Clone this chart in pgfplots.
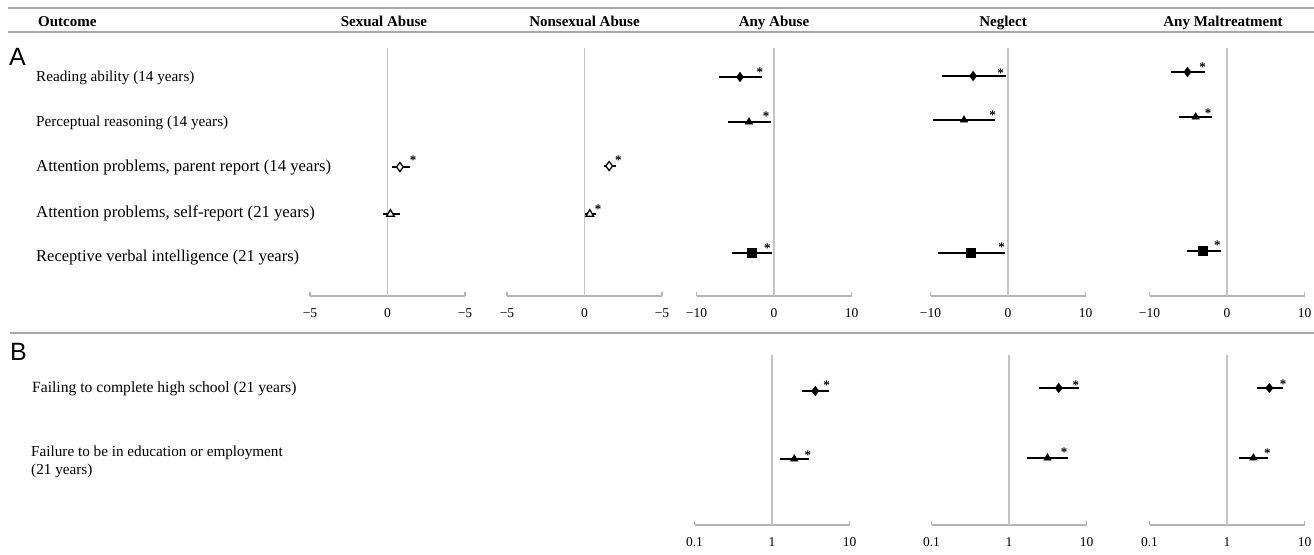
\documentclass[border=0pt]{standalone}
\usepackage{fontspec}
\setmainfont{Liberation Serif}
\newfontfamily\sansA{Liberation Sans}
\usepackage{pgfplots}
\pgfplotsset{compat=1.18}
\definecolor{sepgray}{HTML}{A8A8A8}
\definecolor{zerogray}{HTML}{C4C4C4}
\definecolor{axgray}{HTML}{B4B4B4}
\pgfplotsset{
  forest/.style={
    scale only axis, width=155pt, clip=false, anchor=south west,
    axis x line*=bottom, axis y line=none,
    axis line style={draw=axgray, line width=1.5pt},
    x tick style={draw=axgray, line width=1.5pt},
    tick align=inside, major tick length=4pt,
    xticklabel style={font=\fontsize{13.5}{13.5}\selectfont, anchor=center, yshift=-17pt, inner sep=0pt},
  },
  forestA/.style={forest, height=248pt, ymin=-296, ymax=-48},
  forestAs/.style={forestA, xmin=-5, xmax=5, xtick={-5,0,5}, xticklabels={−5,0,−5}},
  forestAa/.style={forestA, xmin=-10, xmax=10, xtick={-10,0,10}, xticklabels={−10,0,10}},
  % log10 scale drawn on a linear axis: raw odds ratios are converted by the x filter
  forestB/.style={forest, height=170pt, ymin=-525, ymax=-355, xmin=-1, xmax=1, xtick={-1,0,1}, xticklabels={0.1,1,10}},
  lg/.style={x filter/.expression={log10(x)}},
  zeroline/.style={draw=zerogray, line width=1.5pt, mark=none},
  ci/.style={draw=black, line width=2.8pt, mark=none},
  fdia/.style={only marks, mark=diamond*, mark size=4.8pt, draw=black, fill=black},
  ftri/.style={only marks, mark=triangle*, mark size=4.4pt, draw=black, fill=black},
  fsq/.style={only marks, mark=square*, mark size=4.5pt, draw=black, fill=black},
  odia/.style={only marks, mark=diamond*, mark size=4.5pt, mark options={draw=black, fill=white, line width=1.3pt}},
  otri/.style={only marks, mark=triangle*, mark size=4.4pt, mark options={draw=black, fill=white, line width=1.3pt}},
}
\tikzset{star/.style={font=\fontsize{13}{13}\selectfont\bfseries, inner sep=0pt, yshift=-2.5pt}}
\begin{document}
\begin{tikzpicture}
\useasboundingbox (0,0) rectangle (1314pt,-554pt);
% rules
\draw[sepgray, line width=1.8pt] (8pt,-8pt) -- (1314pt,-8pt);
\draw[sepgray, line width=1.8pt] (8pt,-32pt) -- (1314pt,-32pt);
\draw[sepgray, line width=1.8pt] (10pt,-333pt) -- (1314pt,-333pt);
% headers
\begin{scope}[every node/.style={font=\fontsize{15}{15}\selectfont\bfseries, inner sep=0pt}]
\node[anchor=base west] at (38pt,-27pt) {Outcome};
\node[anchor=base] at (384pt,-27pt) {Sexual Abuse};
\node[anchor=base] at (584.5pt,-27pt) {Nonsexual Abuse};
\node[anchor=base] at (774pt,-27pt) {Any Abuse};
\node[anchor=base] at (1003pt,-27pt) {Neglect};
\node[anchor=base] at (1223pt,-27pt) {Any Maltreatment};
\end{scope}
\node[anchor=base west, inner sep=0pt, font=\sansA\fontsize{25}{25}\selectfont] at (9pt,-65pt) {A};
\node[anchor=base west, inner sep=0pt, font=\sansA\fontsize{25}{25}\selectfont] at (10pt,-360pt) {B};
% row labels
\begin{scope}[every node/.style={font=\fontsize{15.2}{15.2}\selectfont, inner sep=0pt, anchor=west}]
\node at (36pt,-78pt) {Reading ability (14 years)};
\node at (36pt,-123pt) {Perceptual reasoning (14 years)};
\node[font=\fontsize{16.7}{16.7}\selectfont] at (36pt,-168pt) {Attention problems, parent report (14 years)};
\node[font=\fontsize{16.7}{16.7}\selectfont] at (36pt,-213pt) {Attention problems, self-report (21 years)};
\node[font=\fontsize{16.5}{16.5}\selectfont] at (36pt,-258pt) {Receptive verbal intelligence (21 years)};
\node[font=\fontsize{15.6}{15.6}\selectfont] at (32pt,-389pt) {Failing to complete high school (21 years)};
\node at (31pt,-453pt) {Failure to be in education or employment};
\node at (31pt,-471pt) {(21 years)};
\end{scope}

% ---------- Panel A: Sexual Abuse
\begin{axis}[forestAs, at={(310pt,-296pt)}]
\addplot[zeroline] coordinates {(0,-48) (0,-296)};
\addplot[ci] coordinates {(0.26,-167) (1.48,-167)};
\addplot[odia] coordinates {(0.80,-167)};
\node[star] at (axis cs:1.66,-158) {*};
\addplot[ci] coordinates {(-0.28,-214) (0.79,-214)};
\addplot[otri] coordinates {(0.19,-214)};
\end{axis}

% ---------- Panel A: Nonsexual Abuse
\begin{axis}[forestAs, at={(507pt,-296pt)}]
\addplot[zeroline] coordinates {(0,-48) (0,-296)};
\addplot[ci] coordinates {(1.23,-166) (2.06,-166)};
\addplot[odia] coordinates {(1.59,-166)};
\node[star] at (axis cs:2.19,-158) {*};
\addplot[ci] coordinates {(0.06,-214) (0.77,-214)};
\addplot[otri] coordinates {(0.34,-214)};
\node[star] at (axis cs:0.88,-207) {*};
\end{axis}

% ---------- Panel A: Any Abuse
\begin{axis}[forestAa, at={(696.5pt,-296pt)}]
\addplot[zeroline] coordinates {(0,-48) (0,-296)};
\addplot[ci] coordinates {(-7.1,-77) (-1.55,-77)};
\addplot[fdia] coordinates {(-4.39,-77)};
\node[star] at (axis cs:-1.81,-70) {*};
\addplot[ci] coordinates {(-5.94,-122) (-0.39,-122)};
\addplot[ftri] coordinates {(-3.23,-122)};
\node[star] at (axis cs:-1.03,-114) {*};
\addplot[ci] coordinates {(-5.46,-253) (-0.3,-253)};
\addplot[fsq] coordinates {(-2.88,-253)};
\node[star] at (axis cs:-0.84,-246) {*};
\end{axis}

% ---------- Panel A: Neglect
\begin{axis}[forestAa, at={(930.5pt,-296pt)}]
\addplot[zeroline] coordinates {(0,-48) (0,-296)};
\addplot[ci] coordinates {(-8.5,-76) (-0.26,-76)};
\addplot[fdia] coordinates {(-4.5,-76)};
\node[star] at (axis cs:-0.94,-70.7) {*};
\addplot[ci] coordinates {(-9.7,-120) (-1.68,-120)};
\addplot[ftri] coordinates {(-5.68,-120)};
\node[star] at (axis cs:-1.97,-112.7) {*};
\addplot[ci] coordinates {(-9.0,-253) (-0.39,-253)};
\addplot[fsq] coordinates {(-4.85,-253)};
\node[star] at (axis cs:-0.81,-245) {*};
\end{axis}

% ---------- Panel A: Any Maltreatment
\begin{axis}[forestAa, at={(1149.5pt,-296pt)}]
\addplot[zeroline] coordinates {(0,-48) (0,-296)};
\addplot[ci] coordinates {(-7.2,-72) (-2.8,-72)};
\addplot[fdia] coordinates {(-5.1,-72)};
\node[star] at (axis cs:-3.16,-65) {*};
\addplot[ci] coordinates {(-6.2,-117) (-2.0,-117)};
\addplot[ftri] coordinates {(-4.05,-117)};
\node[star] at (axis cs:-2.45,-110.7) {*};
\addplot[ci] coordinates {(-5.2,-251) (-0.84,-251)};
\addplot[fsq] coordinates {(-3.1,-251)};
\node[star] at (axis cs:-1.23,-243) {*};
\end{axis}

% ---------- Panel B: Any Abuse (odds ratios, log scale)
\begin{axis}[forestB, at={(694.5pt,-525pt)}]
\addplot[zeroline, lg] coordinates {(1,-355) (1,-525)};
\addplot[ci, lg] coordinates {(2.42,-391) (5.4,-391)};
\addplot[fdia, lg] coordinates {(3.62,-391)};
\node[star] at (axis cs:0.706,-383) {*};
\addplot[ci, lg] coordinates {(1.28,-459) (3.03,-459)};
\addplot[ftri, lg] coordinates {(1.94,-459)};
\node[star] at (axis cs:0.464,-453) {*};
\end{axis}

% ---------- Panel B: Neglect
\begin{axis}[forestB, at={(931.5pt,-525pt)}]
\addplot[zeroline, lg] coordinates {(1,-355) (1,-525)};
\addplot[ci, lg] coordinates {(2.44,-388) (7.94,-388)};
\addplot[fdia, lg] coordinates {(4.38,-388)};
\node[star] at (axis cs:0.862,-383) {*};
\addplot[ci, lg] coordinates {(1.69,-458) (5.69,-458)};
\addplot[ftri, lg] coordinates {(3.14,-458)};
\node[star] at (axis cs:0.710,-450) {*};
\end{axis}

% ---------- Panel B: Any Maltreatment
\begin{axis}[forestB, at={(1149.5pt,-525pt)}]
\addplot[zeroline, lg] coordinates {(1,-355) (1,-525)};
\addplot[ci, lg] coordinates {(2.44,-388) (5.33,-388)};
\addplot[fdia, lg] coordinates {(3.52,-388)};
\node[star] at (axis cs:0.723,-382) {*};
\addplot[ci, lg] coordinates {(1.44,-458) (3.36,-458)};
\addplot[ftri, lg] coordinates {(2.19,-458)};
\node[star] at (axis cs:0.522,-451) {*};
\end{axis}
\end{tikzpicture}
\end{document}
